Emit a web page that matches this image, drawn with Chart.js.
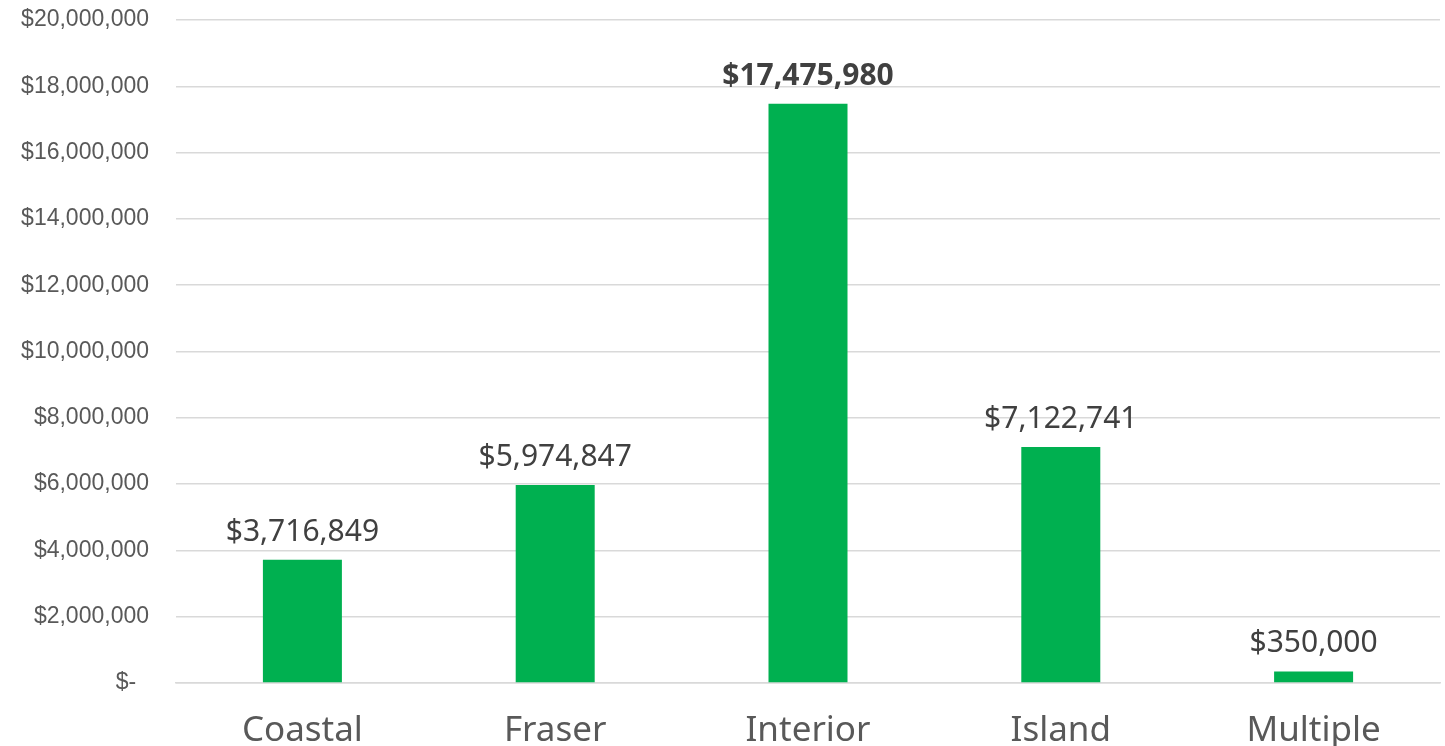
<!DOCTYPE html>
<html lang="en">
<head>
<meta charset="UTF-8">
<title>Funding by region</title>
<script src="https://cdn.jsdelivr.net/npm/chart.js"></script>
<style>
  html, body { margin: 0; padding: 0; background: #fff; }
  #wrap { width: 1445px; height: 746px; position: relative; }
</style>
</head>
<body>
<div id="wrap"><canvas id="regionChart"></canvas></div>
<script>
  const regions = ['Coastal', 'Fraser', 'Interior', 'Island', 'Multiple'];
  const amounts = [3716849, 5974847, 17475980, 7122741, 350000];
  const boldLabel = [false, false, true, false, false];

  const money = v => v === 0 ? '$-  ' : '$' + v.toLocaleString('en-US');

  // value labels above each bar
  const barLabels = {
    id: 'barLabels',
    afterDatasetsDraw(chart) {
      const c = chart.ctx;
      const meta = chart.getDatasetMeta(0);
      c.save();
      c.textAlign = 'center';
      c.textBaseline = 'alphabetic';
      c.fillStyle = '#404040';
      meta.data.forEach((bar, i) => {
        c.font = (boldLabel[i] ? 'bold ' : '') + '30px "Noto Sans"';
        c.fillText(money(amounts[i]), bar.x, bar.y - 19);
      });
      c.restore();
    }
  };

  new Chart(document.getElementById('regionChart'), {
    type: 'bar',
    data: {
      labels: regions,
      datasets: [{
        data: amounts,
        backgroundColor: '#00B050',
        barPercentage: 0.3125,
        categoryPercentage: 1
      }]
    },
    options: {
      responsive: true,
      maintainAspectRatio: false,
      animation: false,
      layout: { padding: { top: 20, right: 5, left: 0, bottom: 0 } },
      plugins: { legend: { display: false }, tooltip: { enabled: false } },
      scales: {
        x: {
          grid: { display: false, drawTicks: false },
          border: { color: '#d9d9d9', width: 1.5 },
          ticks: { color: '#595959', font: { family: 'Noto Sans', size: 35 }, padding: 27 },
          afterFit: s => { s.height = 63; }
        },
        y: {
          min: 0,
          max: 20000000,
          ticks: {
            stepSize: 2000000,
            color: '#595959',
            font: { family: 'Liberation Sans', size: 23 },
            padding: 27,
            callback: v => money(v)
          },
          grid: { color: '#d9d9d9', lineWidth: 1.5, drawTicks: false },
          border: { display: false },
          afterFit: s => { s.width = 176; s.paddingTop = 0; s.paddingBottom = 0; }
        }
      }
    },
    plugins: [barLabels]
  });
</script>
</body>
</html>
